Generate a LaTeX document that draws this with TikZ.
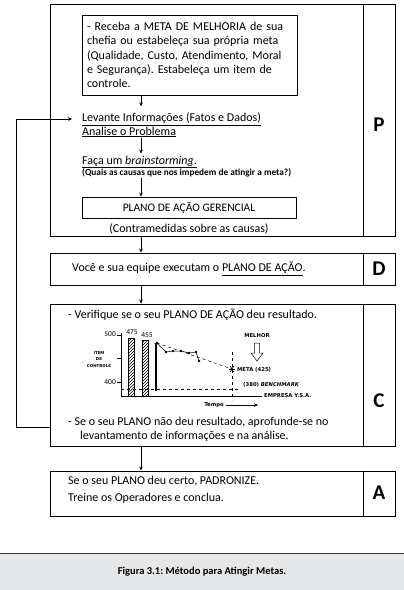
\documentclass[tikz,border=0pt]{standalone}
\usepackage{fontspec}
\setmainfont{Carlito}
\newfontfamily\chartfont{DejaVu Sans}
\usetikzlibrary{arrows.meta,patterns}
\definecolor{capgray}{HTML}{E6E7E9}
\frenchspacing
\begin{document}
\begin{tikzpicture}[x=1pt,y=-1pt,
  frame/.style={draw,line width=0.9pt,inner sep=0pt,minimum width=345pt},
  ibox/.style={draw,line width=0.8pt,inner sep=0pt},
  arr/.style={-{Stealth[length=4pt,width=3.6pt]},line width=0.7pt},
  txt/.style={inner sep=0pt,font=\fontsize{12}{14.2}\selectfont},
  letter/.style={inner sep=0pt,font=\fontsize{21}{21}\selectfont\bfseries},
  tiny/.style={inner sep=0pt,font=\chartfont\fontsize{5.3}{6}\selectfont\bfseries},
  small/.style={inner sep=0pt,font=\fontsize{7.5}{8}\selectfont},
  chart/.style={line width=0.5pt}]
\useasboundingbox (0,0) rectangle (404,590);
\coordinate (ax) at (141,0);
\coordinate (sep) at (363,0);
% frames
\node[frame,minimum height=232pt] (Pbox) at (222.5,120) {};
\node[frame,minimum height=32pt] (Dbox) at (222.5,269) {};
\node[frame,minimum height=142pt] (Cbox) at (222.5,375) {};
\node[frame,minimum height=45pt] (Abox) at (222.5,493.5) {};
\foreach \b in {Pbox,Dbox,Cbox,Abox}
  \draw[line width=0.9pt] (\b.north -| sep) -- (\b.south -| sep);
\node[letter] (P) at (379,125) {P};
\node[letter] (D) at (379,269) {D};
\node[letter] (C) at (379,401) {C};
\node[letter] (A) at (379,493) {A};
% P contents
\node[ibox,minimum width=215pt,minimum height=80pt,text width=205pt,align=left,
  font=\fontsize{12}{14.2}\selectfont] (meta) at (189.5,55)
  {- Receba a META DE MELHORIA de sua\\chefia ou estabeleça sua própria meta\\(Qualidade, Custo, Atendimento, Moral\\e Segurança). Estabeleça um item de\\controle.};
\node[txt,anchor=west] (lev) at (82,119) {\underline{Levante Informações (Fatos e Dados)}};
\node[txt,anchor=west] (ana) at (82,132) {\underline{Analise o Problema}};
\node[txt,anchor=west] (brain) at (82,162) {\underline{Faça um \textit{brainstorming}.}};
\node[inner sep=0pt,anchor=west,font=\fontsize{9.3}{10}\selectfont\bfseries] (quais) at (82,172.5) {(Quais as causas que nos impedem de atingir a meta?)};
\node[ibox,minimum width=214pt,minimum height=21pt,font=\fontsize{11.5}{13}\selectfont] (plano) at (189,207.5) {PLANO DE AÇÃO GERENCIAL};
\node[txt] (contra) at (189,229) {(Contramedidas sobre as causas)};
\draw[arr,shorten >=6pt] (meta.south -| ax) -- (lev.north -| ax);
\draw[arr,shorten <=1pt,shorten >=2pt] (ana.south -| ax) -- (brain.north -| ax);
\draw[arr,shorten <=1pt] (quais.south -| ax) -- (plano.north -| ax);
\draw[arr] (Pbox.south -| ax) -- (Dbox.north -| ax);
\draw[arr] (Dbox.south -| ax) -- (Cbox.north -| ax);
\draw[arr] (Cbox.south -| ax) -- (Abox.north -| ax);
% D
\node[txt,anchor=west] (dtxt) at (72,269) {Você e sua equipe executam o \underline{PLANO DE AÇÃO}.};
% C
\node[txt,anchor=west] (ver) at (68,315) {- Verifique se o seu PLANO DE AÇÃO deu resultado.};
\node[txt,anchor=west] (se1) at (68,422) {- Se o seu PLANO não deu resultado, aprofunde-se no};
\node[txt,anchor=west] (se2) at (80,436) {levantamento de informações e na análise.};
% feedback
\coordinate (fbb) at (16,427);
\coordinate (fbt) at (16,119);
\draw[arr,shorten >=10pt] (Cbox.west |- fbb) -- (fbb) -- (fbt) -- (lev.west);
% A
\node[txt,anchor=west] (a1) at (68,481) {Se o seu PLANO deu certo, PADRONIZE.};
\node[txt,anchor=west] (a2) at (68,498) {Treine os Operadores e conclua.};
% chart
\draw[chart] (121,333) -- (121,396) -- (262,396);
\foreach \yy in {335,358,382} \draw[chart] (117,\yy) -- (121,\yy);
\node[small,anchor=east] (l500) at (116,334) {500};
\node[small,anchor=east] (l400) at (116,382) {400};
\node[inner sep=0pt,align=center,font=\chartfont\fontsize{4}{6.5}\selectfont\bfseries] (item) at (99,359.5) {ITEM\\DE\\CONTROLE};
\draw[chart,pattern=north east lines] (128,338) rectangle (134,396);
\draw[chart,pattern=north east lines] (142,340) rectangle (148,396);
\node[small] (l475) at (132,332.5) {475};
\node[small] (l455) at (147,335.5) {455};
\draw[line width=1.4pt] (156,343) -- (156,391);
\draw[chart] (157,343) -- (166,352) -- (173,351) -- (181,351) -- (189,353) -- (196,352) -- (199,361);
\foreach \p in {(157,343),(166,352),(173,351),(181,351),(189,353),(196,352),(199,361)}
  \fill \p circle (1.3);
\draw[chart,dashed] (157,343) -- (232,369);
\draw[chart,dashed] (121,389) -- (240,389);
\draw[chart,dashed] (232,352) -- (232,400);
\foreach \a in {0,60,120} \draw[line width=0.6pt] (232,369) ++(\a:3.2) -- ++(\a+180:6.4);
\node[tiny,anchor=west] (metal) at (237,370) {META (425)};
\node[tiny,anchor=west] (bench) at (243,385) {(380) \textit{BENCHMARK}};
\node[tiny,anchor=west] (emp) at (264,396) {EMPRESA Y.S.A.};
\node[tiny] (melhor) at (257,336) {MELHOR};
\draw[line width=0.5pt] (254.5,343) -- (259.5,343) -- (259.5,353) -- (263,353) -- (257,361) -- (251,353) -- (254.5,353) -- cycle;
\node[tiny] (tempo) at (214,405) {Tempo};
\draw[chart,-{Stealth[length=4pt,width=3.5pt]}] (tempo.east) ++(2,0) -- (258,405);
% caption
\fill[capgray] (0,553) rectangle (404,590);
\draw[line width=0.8pt,black!80] (0,553) -- (404,553);
\node[inner sep=0pt,font=\fontsize{10.5}{13}\selectfont\bfseries] (cap) at (202,572) {Figura 3.1: Método para Atingir Metas.};
\end{tikzpicture}
\end{document}
